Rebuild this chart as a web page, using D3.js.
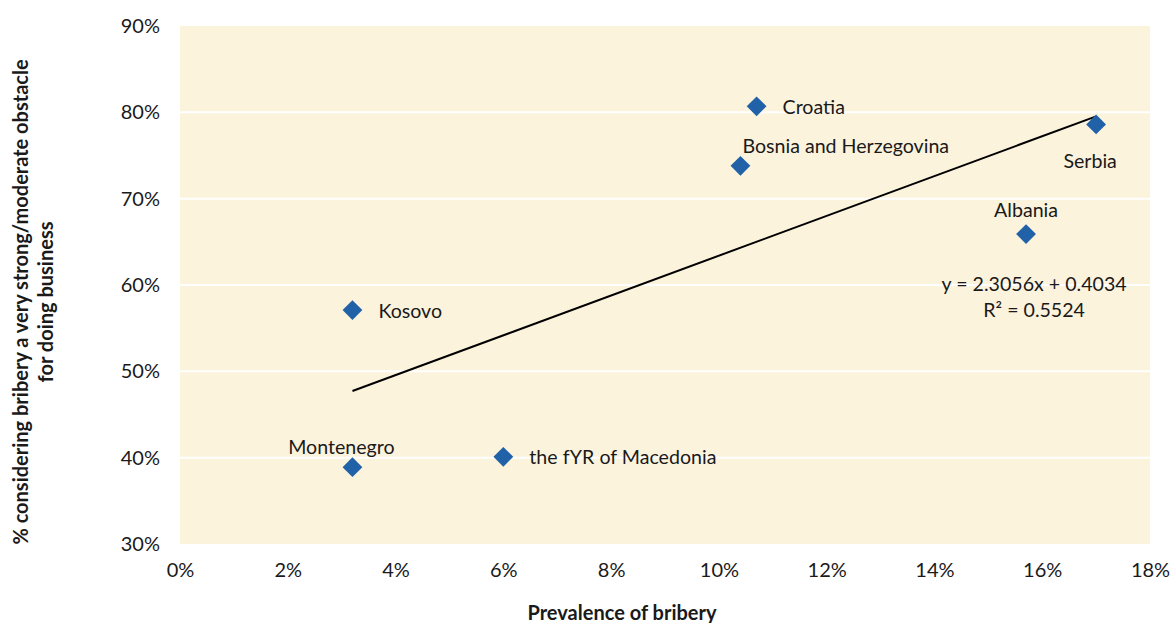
<!DOCTYPE html>
<html>
<head>
<meta charset="utf-8">
<script src="https://cdn.jsdelivr.net/npm/d3@7/dist/d3.min.js"></script>
<style>
  html, body { margin: 0; padding: 0; background: #fff; }
  svg text { font-family: Lato, "Open Sans", sans-serif; fill: #1a1a1a; }
</style>
</head>
<body>
<svg id="chart" width="1171" height="623"></svg>
<script>
// Country observations: prevalence of bribery vs. share seeing bribery as an obstacle
const countries = ["Croatia", "Bosnia and Herzegovina", "Serbia", "Albania", "Kosovo", "Montenegro", "the fYR of Macedonia"];
const prevalence = [0.107, 0.104, 0.170, 0.157, 0.032, 0.032, 0.060];
const obstacle   = [0.807, 0.738, 0.786, 0.659, 0.571, 0.389, 0.401];

// Linear trend reported for the series
const trendSlope = 2.3056;
const trendIntercept = 0.4034;
const trendR2 = 0.5524;

const xTicks = [0, 0.02, 0.04, 0.06, 0.08, 0.10, 0.12, 0.14, 0.16, 0.18];
const yTicks = [0.3, 0.4, 0.5, 0.6, 0.7, 0.8, 0.9];

const xTitle = "Prevalence of bribery";
const yTitleLines = ["% considering bribery a very strong/moderate obstacle", "for doing business"];

// Label placement per country: anchor and pixel offset from the marker
const labelPlacement = {
  "Croatia":               { anchor: "start",  dx: 26,  dy: 0 },
  "Bosnia and Herzegovina":{ anchor: "start",  dx: 2,   dy: -20 },
  "Serbia":                { anchor: "middle", dx: -6,  dy: 36 },
  "Albania":               { anchor: "middle", dx: 0,   dy: -25 },
  "Kosovo":                { anchor: "start",  dx: 26,  dy: 0 },
  "Montenegro":            { anchor: "middle", dx: -11, dy: -21 },
  "the fYR of Macedonia":  { anchor: "start",  dx: 26,  dy: 0 }
};

const svg = d3.select("#chart");
const plot = { left: 180, right: 1150, top: 26, bottom: 544 };

const x = d3.scaleLinear().domain([0, 0.18]).range([plot.left, plot.right]);
const y = d3.scaleLinear().domain([0.3, 0.9]).range([plot.bottom, plot.top]);
const pct = d3.format(".0%");

// Plot background
svg.append("rect")
  .attr("x", plot.left).attr("y", plot.top)
  .attr("width", plot.right - plot.left).attr("height", plot.bottom - plot.top)
  .attr("fill", "#fcf3dd");

// Horizontal gridlines
svg.append("g")
  .selectAll("line")
  .data(yTicks.slice(1, -1))
  .join("line")
  .attr("x1", plot.left).attr("x2", plot.right)
  .attr("y1", d => y(d)).attr("y2", d => y(d))
  .attr("stroke", "#ffffff").attr("stroke-width", 2);

// Y axis
const yAxis = svg.append("g")
  .attr("transform", `translate(${plot.left},0)`)
  .call(d3.axisLeft(y).tickValues(yTicks).tickFormat(pct).tickSize(0).tickPadding(20));
yAxis.select(".domain").remove();
yAxis.selectAll("text").style("font-size", "20px").style("font-family", "Lato, sans-serif").attr("fill", "#1a1a1a");

// X axis
const xAxis = svg.append("g")
  .attr("transform", `translate(0,${plot.bottom})`)
  .call(d3.axisBottom(x).tickValues(xTicks).tickFormat(pct).tickSize(0).tickPadding(19));
xAxis.select(".domain").remove();
xAxis.selectAll("text").style("font-size", "20px").style("font-family", "Lato, sans-serif").attr("fill", "#1a1a1a");

// Trend line across the observed x range
const [xMin, xMax] = d3.extent(prevalence);
const trend = d3.line().x(d => x(d)).y(d => y(trendIntercept + trendSlope * d));
svg.append("path")
  .attr("d", trend([xMin, xMax]))
  .attr("fill", "none").attr("stroke", "#000").attr("stroke-width", 2);

// Markers
const diamond = d3.symbol().type(d3.symbolSquare).size(196);
svg.append("g")
  .selectAll("path")
  .data(countries)
  .join("path")
  .attr("d", diamond)
  .attr("transform", (d, i) => `translate(${x(prevalence[i])},${y(obstacle[i])}) rotate(45)`)
  .attr("fill", "#2061a8");

// Country labels
svg.append("g")
  .selectAll("text")
  .data(countries)
  .join("text")
  .attr("x", (d, i) => x(prevalence[i]) + labelPlacement[d].dx)
  .attr("y", (d, i) => y(obstacle[i]) + labelPlacement[d].dy)
  .attr("text-anchor", d => labelPlacement[d].anchor)
  .attr("dominant-baseline", "central")
  .style("font-size", "19.6px")
  .text(d => d);

// Trend equation
const eqX = x(0.1585), eqY = y(0.60);
svg.append("text")
  .attr("x", eqX).attr("y", eqY - 2)
  .attr("text-anchor", "middle").attr("dominant-baseline", "central")
  .style("font-size", "19.6px")
  .text(`y = ${trendSlope}x + ${trendIntercept}`);
svg.append("text")
  .attr("x", eqX).attr("y", eqY + 24)
  .attr("text-anchor", "middle").attr("dominant-baseline", "central")
  .style("font-size", "19.6px")
  .text(`R² = ${trendR2}`);

// Axis titles
svg.append("text")
  .attr("x", (plot.left + plot.right) / 2 - 43).attr("y", 612)
  .attr("text-anchor", "middle").attr("dominant-baseline", "central")
  .style("font-size", "20px").style("font-weight", "bold")
  .text(xTitle);

const yTitle = svg.append("text")
  .attr("transform", `translate(21,${(plot.top + plot.bottom) / 2 + 17}) rotate(-90)`)
  .attr("text-anchor", "middle")
  .style("font-size", "20px").style("font-weight", "bold");
yTitle.selectAll("tspan")
  .data(yTitleLines)
  .join("tspan")
  .attr("x", 0)
  .attr("dy", (d, i) => i === 0 ? "0.35em" : "25px")
  .text(d => d);
</script>
</body>
</html>
